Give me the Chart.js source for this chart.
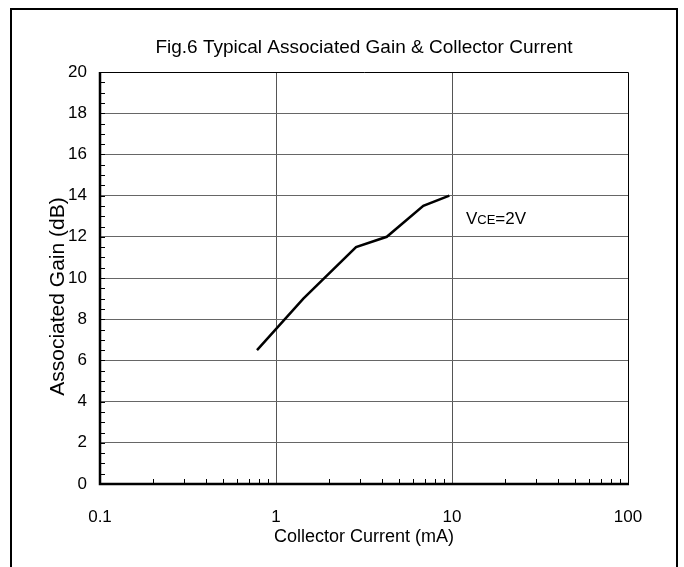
<!DOCTYPE html>
<html>
<head>
<meta charset="utf-8">
<script src="https://cdn.jsdelivr.net/npm/chart.js@4.4.0/dist/chart.umd.min.js"></script>
<style>
  html, body { margin: 0; padding: 0; background: #fff; }
  #wrap { width: 684px; height: 567px; }
</style>
</head>
<body>
<div id="wrap"><canvas id="gain"></canvas></div>
<script>
// values
const currentMA = [0.78, 1.43, 2.85, 4.26, 6.87, 9.66];
const gainDB = [6.5, 9.0, 11.5, 12.0, 13.5, 14.0];
const xTickValues = [0.1, 1, 10, 100];
const yMin = 0, yMax = 20, yStep = 2;
const noteX = 12, noteY = 12.9; // where the VCE=2V note sits
const yTitle = "Associated Gain (dB)";
const yTitleAt = 9.1; // y value the rotated axis title is centred on

const FONT = '"Liberation Sans", Arial, sans-serif';
Chart.defaults.font.family = FONT;
Chart.defaults.color = "#000";

const points = currentMA.map((x, i) => ({ x: x, y: gainDB[i] }));

// frame, minor ticks, y title, note
const decor = {
  id: "decor",
  beforeDraw(chart) {
    const ctx = chart.ctx;
    ctx.save();
    ctx.fillStyle = "#fff";
    ctx.fillRect(0, 0, chart.width, chart.height);
    ctx.strokeStyle = "#000";
    ctx.lineWidth = 2;
    ctx.strokeRect(11, 9, 666, 600);
    ctx.restore();
  },
  afterDraw(chart) {
    const ctx = chart.ctx;
    const a = chart.chartArea;
    const xs = chart.scales.x, ys = chart.scales.y;
    ctx.save();
    ctx.strokeStyle = "#000";
    // minor ticks
    ctx.lineWidth = 1;
    ctx.beginPath();
    for (let d = 0; d < xTickValues.length - 1; d++) {
      for (let m = 2; m <= 9; m++) {
        const px = Math.round(xs.getPixelForValue(xTickValues[d] * m)) + 0.5;
        ctx.moveTo(px, a.bottom);
        ctx.lineTo(px, a.bottom - 5);
      }
    }
    for (let v = yMin + yStep / 4; v < yMax; v += yStep / 4) {
      const py = Math.round(ys.getPixelForValue(v)) + 0.5;
      ctx.moveTo(a.left, py);
      ctx.lineTo(a.left + 5, py);
    }
    ctx.stroke();
    // plot border
    ctx.lineWidth = 1;
    ctx.beginPath();
    ctx.moveTo(a.left, a.top + 0.5);
    ctx.lineTo(a.right + 0.5, a.top + 0.5);
    ctx.lineTo(a.right + 0.5, a.bottom);
    ctx.stroke();
    ctx.lineWidth = 2.5;
    ctx.beginPath();
    ctx.moveTo(a.left, a.top);
    ctx.lineTo(a.left, a.bottom);
    ctx.lineTo(a.right + 1, a.bottom);
    ctx.stroke();
    ctx.fillStyle = "#000";
    // y axis title
    ctx.save();
    ctx.translate(58, ys.getPixelForValue(yTitleAt));
    ctx.rotate(-Math.PI / 2);
    ctx.textAlign = "center";
    ctx.textBaseline = "middle";
    ctx.font = "21px " + FONT;
    ctx.fillText(yTitle, 0, 0);
    ctx.restore();
    // VCE=2V note
    let tx = xs.getPixelForValue(noteX);
    const ty = ys.getPixelForValue(noteY);
    ctx.textBaseline = "alphabetic";
    ctx.textAlign = "left";
    const big = "17px " + FONT, small = "13px " + FONT;
    const base = ty + 6;
    ctx.font = big; ctx.fillText("V", tx, base); tx += ctx.measureText("V").width;
    ctx.font = small; ctx.fillText("CE", tx, base); tx += ctx.measureText("CE").width;
    ctx.font = big; ctx.fillText("=2V", tx, base);
    ctx.restore();
  }
};

new Chart(document.getElementById("gain"), {
  type: "scatter",
  data: {
    datasets: [
      {
        label: "VCE=2V",
        data: points,
        showLine: true,
        borderColor: "#000",
        backgroundColor: "#000",
        borderWidth: 2.5,
        pointRadius: 0,
        tension: 0,
      },
    ],
  },
  options: {
    responsive: true,
    maintainAspectRatio: false,
    animation: false,
    devicePixelRatio: 1,
    layout: { padding: { left: 0, right: 56, top: 0, bottom: 0 } },
    plugins: {
      legend: { display: false },
      tooltip: { enabled: false },
      title: {
        display: true,
        text: "Fig.6 Typical Associated Gain & Collector Current",
        color: "#000",
        fullSize: false,
        font: { size: 19, weight: "normal" },
        padding: { top: 36.6, bottom: 12.6 },
      },
    },
    scales: {
      x: {
        type: "logarithmic",
        position: "bottom",
        min: xTickValues[0],
        max: xTickValues[xTickValues.length - 1],
        afterBuildTicks: (s) => {
          s.ticks = xTickValues.map((v) => ({ value: v }));
        },
        afterFit: (s) => {
          s.height = 83;
        },
        ticks: {
          callback: (v) => String(v),
          font: { size: 17 },
          color: "#000",
          padding: 23,
          maxRotation: 0,
          autoSkip: false,
        },
        grid: {
          drawTicks: false,
          lineWidth: 1,
          color: (c) =>
            c.tick && c.tick.value > xTickValues[0] && c.tick.value < xTickValues[xTickValues.length - 1]
              ? "#555"
              : "rgba(0,0,0,0)",
        },
        border: { display: false },
        title: {
          display: true,
          text: "Collector Current (mA)",
          color: "#000",
          font: { size: 18 },
          padding: { top: 0, bottom: 19 },
        },
      },
      y: {
        min: yMin,
        max: yMax,
        afterFit: (s) => {
          s.width = 100;
        },
        ticks: {
          stepSize: yStep,
          font: { size: 17 },
          color: "#000",
          padding: 13,
        },
        grid: {
          drawTicks: false,
          lineWidth: 1,
          color: (c) =>
            c.tick && c.tick.value > yMin && c.tick.value < yMax ? "#666" : "rgba(0,0,0,0)",
        },
        border: { display: false },
        title: { display: false },
      },
    },
  },
  plugins: [decor],
});
</script>
</body>
</html>
